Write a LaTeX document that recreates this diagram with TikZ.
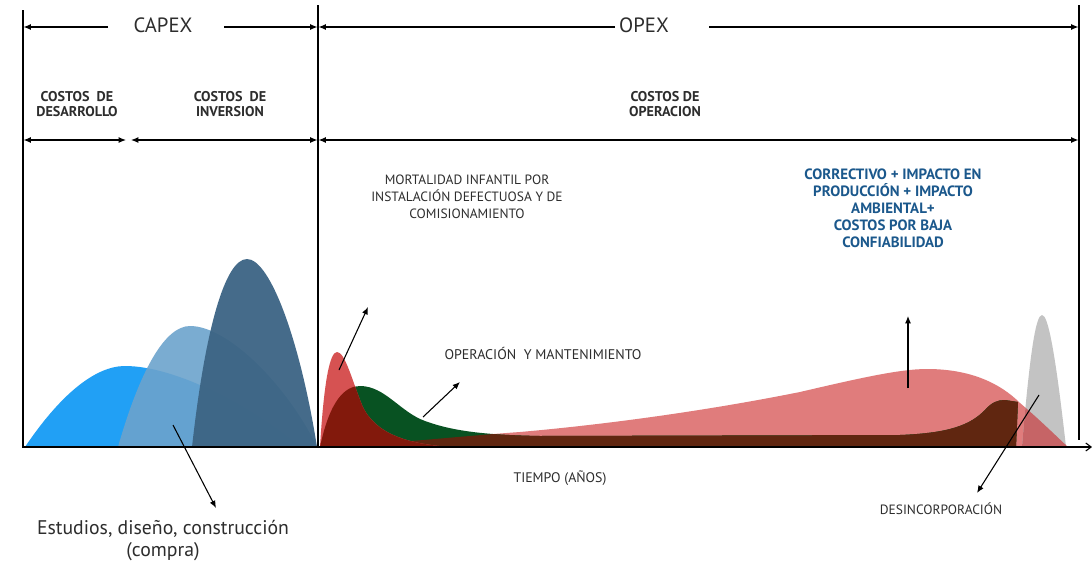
\documentclass[tikz,border=0pt]{standalone}
\usepackage{fontspec}
\setmainfont{PT Sans}
\usetikzlibrary{arrows.meta}
\definecolor{bluea}{RGB}{33,160,245}
\definecolor{blueb}{RGB}{108,163,204}
\definecolor{bluec}{RGB}{60,100,132}
\definecolor{pinkc}{RGB}{224,124,124}
\definecolor{redc}{RGB}{214,82,82}
\definecolor{greenc}{RGB}{8,82,34}
\definecolor{brownc}{RGB}{96,38,16}
\definecolor{maroonc}{RGB}{130,25,12}
\definecolor{grayc}{RGB}{195,195,195}
\definecolor{graypink}{RGB}{198,100,102}
\definecolor{bluetext}{RGB}{27,88,140}
\definecolor{txt}{RGB}{45,45,45}
\begin{document}
\begin{tikzpicture}[x=0.75pt,y=-0.75pt,
  tip/.style={-{Latex[length=5.5pt,width=4.5pt]}},
  dim/.style={tip, line width=0.9pt},
  dimboth/.style={{Latex[length=5.5pt,width=4.5pt]}-{Latex[length=5.5pt,width=4.5pt]}, line width=0.9pt},
  ann/.style={tip, line width=0.8pt},
  vline/.style={line width=1pt},
  big/.style={font=\fontsize{15.5}{18}\selectfont, text=txt, inner sep=0pt},
  lab/.style={font=\fontsize{10.6}{11.3}\selectfont\bfseries, align=center, text=txt, inner sep=0pt},
  note/.style={font=\fontsize{10.1}{12.75}\selectfont, align=center, text=txt, inner sep=0pt},
  bnote/.style={font=\fontsize{11.2}{12.75}\selectfont\bfseries, align=center, text=bluetext, inner sep=0pt},
  est/.style={font=\fontsize{14.8}{16.5}\selectfont, align=center, text=txt, inner sep=0pt}]
\useasboundingbox (0,0) rectangle (1092,564);
\fill[white] (0,0) rectangle (1092,564);

% ---- shape paths
\def\pathA{(25,447) .. controls (60,395) and (95,366) .. (125,366) .. controls (175,366) and (250,405) .. (300,447) -- cycle}
\def\pathB{(118,447) .. controls (140,370) and (165,326) .. (190,326) .. controls (230,326) and (290,390) .. (317,447) -- cycle}
\def\pathC{(192,447) .. controls (205,330) and (225,259) .. (247,259) .. controls (270,259) and (300,340) .. (317,447) -- cycle}
\def\pathP{(320,447) .. controls (380,445) and (450,437) .. (520,432) .. controls (600,425) and (700,412) .. (800,392) .. controls (860,378) and (900,369) .. (927,369) .. controls (970,369) and (1000,383) .. (1020,403) .. controls (1040,420) and (1055,435) .. (1068,447) -- cycle}
\def\pathG{(320,447) .. controls (330,400) and (345,386) .. (360,386) .. controls (385,386) and (400,412) .. (425,421) .. controls (455,432) and (490,435) .. (540,436) -- (900,435) .. controls (950,433) and (970,425) .. (985,410) .. controls (992,402) and (998,400) .. (1005,400) -- (1018,402) -- (1016,447) -- cycle}
\def\pathR{(320,447) .. controls (324,380) and (330,352) .. (337,352) .. controls (345,352) and (352,380) .. (362,405) .. controls (375,435) and (410,444) .. (450,447) -- cycle}
\def\pathS{(1022,447) .. controls (1030,350) and (1036,315) .. (1042,315) .. controls (1048,315) and (1055,350) .. (1066,447) -- cycle}

% ---- CAPEX curves
\fill[bluea] \pathA;
\fill[blueb, fill opacity=0.9] \pathB;
\fill[bluec, fill opacity=0.95] \pathC;

% ---- OPEX curves
\fill[pinkc] \pathP;
\fill[grayc] \pathS;
\begin{scope}
  \clip \pathS;
  \fill[graypink] \pathP;
\end{scope}
\fill[greenc] \pathG;
\begin{scope}
  \clip \pathP;
  \fill[brownc] \pathG;
\end{scope}
\fill[redc] \pathR;
\begin{scope}
  \clip \pathG;
  \fill[maroonc] \pathR;
\end{scope}

% ---- frame lines
\coordinate (lt) at (23,10);   \coordinate (lb) at (23,447);
\coordinate (mt) at (318,5);   \coordinate (mb) at (318,447);
\coordinate (rt) at (1079,5);  \coordinate (rb) at (1079,440);
\coordinate (ax0) at (22,447); \coordinate (ax1) at (1092,447);
\draw[vline] (lt) -- (lb);
\draw[vline] (mt) -- (mb);
\draw[vline] (rt) -- (rb);
\draw[line width=1.6pt, -{Straight Barb[length=4pt,width=6pt,line width=0.8pt]}] (ax0) -- (ax1);

% ---- top dimension rows
\node[big] (capex) at (163,25) {CAPEX};
\node[big] (opex) at (644,25) {OPEX};
\coordinate (c1a) at (108,27); \coordinate (c1b) at (23.5,27);
\coordinate (c2a) at (224,27); \coordinate (c2b) at (317.5,27);
\coordinate (o1a) at (615,27); \coordinate (o1b) at (318.5,27);
\coordinate (o2a) at (709,27); \coordinate (o2b) at (1078.5,27);
\draw[dim] (c1a) -- (c1b);
\draw[dim] (c2a) -- (c2b);
\draw[dim] (o1a) -- (o1b);
\draw[dim] (o2a) -- (o2b);

\node[lab] (dev) at (77,104) {COSTOS\ \ DE\\DESARROLLO};
\node[lab] (inv) at (230,104) {COSTOS\ \ DE\\INVERSION};
\node[lab] (ope) at (665,104) {COSTOS DE\\OPERACION};
\coordinate (d1a) at (23.5,140); \coordinate (d1b) at (126,140);
\coordinate (d2a) at (131,140);  \coordinate (d2b) at (317.5,140);
\coordinate (d3a) at (318.5,140); \coordinate (d3b) at (1078.5,140);
\draw[dimboth] (d1a) -- (d1b);
\draw[dimboth] (d2a) -- (d2b);
\draw[dimboth] (d3a) -- (d3b);

% ---- annotations
\node[note] (mort) at (467,197) {MORTALIDAD INFANTIL POR\\INSTALACIÓN DEFECTUOSA Y DE\\COMISIONAMIENTO};
\node[note, font=\fontsize{10.5}{12.75}\selectfont] (om) at (543,353) {OPERACIÓN\ \ Y MANTENIMIENTO};
\node[bnote] (corr) at (893,208) {CORRECTIVO + IMPACTO EN\\PRODUCCIÓN + IMPACTO\\AMBIENTAL+\\COSTOS POR BAJA\\CONFIABILIDAD};
\node[note, font=\fontsize{10.4}{12}\selectfont] (tiempo) at (560,478) {TIEMPO (AÑOS)};
\node[note] (desin) at (941,509) {DESINCORPORACIÓN};
\node[est] (estu) at (163,541) {Estudios, diseño, construcción\\(compra)};

\coordinate (a1s) at (173,425); \coordinate (a1e) at (216,508);
\coordinate (a2s) at (339,370); \coordinate (a2e) at (368,307);
\coordinate (a3s) at (423,417); \coordinate (a3e) at (460,382);
\coordinate (a4s) at (908,388); \coordinate (a4e) at (908,316);
\coordinate (a5s) at (1039,395); \coordinate (a5e) at (977,493);
\draw[ann] (a1s) -- (a1e);
\draw[ann] (a2s) -- (a2e);
\draw[ann] (a3s) -- (a3e);
\draw[ann] (a4s) -- (a4e);
\draw[ann] (a5s) -- (a5e);
\end{tikzpicture}
\end{document}
